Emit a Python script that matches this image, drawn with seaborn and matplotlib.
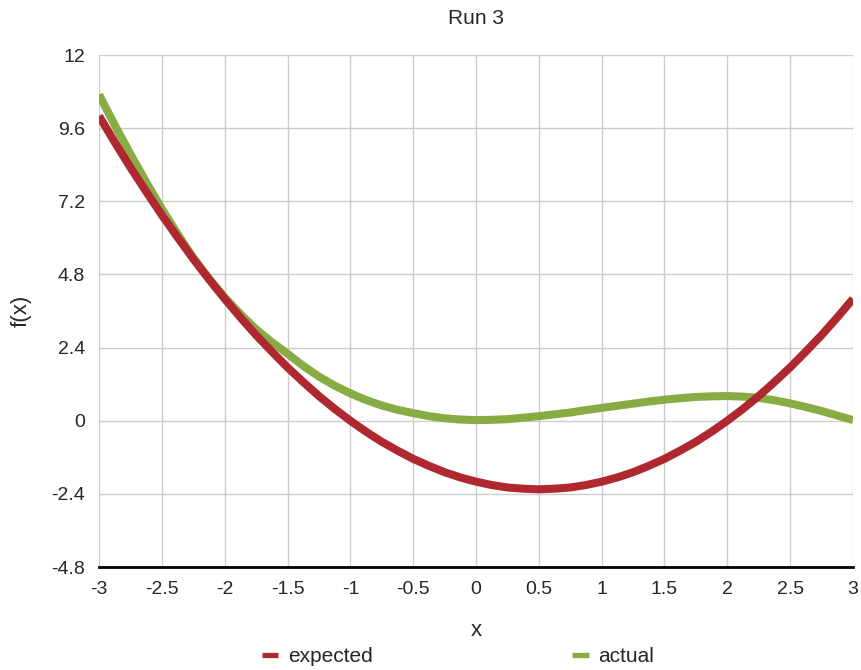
import numpy as np
import pandas as pd
import matplotlib
matplotlib.use("Agg")
import matplotlib.pyplot as plt
import seaborn as sns
from matplotlib.lines import Line2D

x_vals = [-3, -2.875, -2.75, -2.625, -2.5, -2.375, -2.25, -2.125, -2, -1.875, -1.75, -1.625,
          -1.5, -1.375, -1.25, -1.125, -1, -0.875, -0.75, -0.625, -0.5, -0.375, -0.25, -0.125,
          0, 0.125, 0.25, 0.375, 0.5, 0.625, 0.75, 0.875, 1, 1.125, 1.25, 1.375,
          1.5, 1.625, 1.75, 1.875, 2, 2.125, 2.25, 2.375, 2.5, 2.625, 2.75, 2.875, 3]
expected = [10.0, 9.14, 8.31, 7.52, 6.75, 6.02, 5.31, 4.64, 4.0, 3.39, 2.81, 2.27,
            1.75, 1.27, 0.81, 0.39, 0.0, -0.36, -0.69, -0.98, -1.25, -1.48, -1.69, -1.86,
            -2.0, -2.11, -2.19, -2.23, -2.25, -2.23, -2.19, -2.11, -2.0, -1.86, -1.69, -1.48,
            -1.25, -0.98, -0.69, -0.36, 0.0, 0.39, 0.81, 1.27, 1.75, 2.27, 2.81, 3.39, 4.0]
actual = [10.7, 9.7, 8.75, 7.83, 6.95, 6.13, 5.35, 4.67, 4.05, 3.5, 3.0, 2.58,
          2.2, 1.8, 1.45, 1.15, 0.9, 0.68, 0.5, 0.36, 0.25, 0.15, 0.08, 0.04,
          0.02, 0.03, 0.05, 0.1, 0.15, 0.21, 0.27, 0.35, 0.42, 0.49, 0.56, 0.63,
          0.69, 0.74, 0.78, 0.8, 0.81, 0.79, 0.75, 0.67, 0.57, 0.45, 0.32, 0.17, 0.02]
series_names = ["expected", "actual"]
x_ticks = [-3, -2.5, -2, -1.5, -1, -0.5, 0, 0.5, 1, 1.5, 2, 2.5, 3]
x_tick_labels = ["-3", "-2.5", "-2", "-1.5", "-1", "-0.5", "0", "0.5", "1", "1.5", "2", "2.5", "3"]
y_ticks = [-4.8, -2.4, 0, 2.4, 4.8, 7.2, 9.6, 12]
y_tick_labels = ["-4.8", "-2.4", "0", "2.4", "4.8", "7.2", "9.6", "12"]

df = pd.DataFrame({
    "x": x_vals * 2,
    "y": expected + actual,
    "series": [series_names[0]] * len(x_vals) + [series_names[1]] * len(x_vals),
})

sns.set_style("white")
plt.rcParams["font.family"] = ["Liberation Sans", "DejaVu Sans"]

fig = plt.figure(figsize=(8.61, 6.70), dpi=100)
ax = fig.add_axes([0.115, 0.1537, 0.8757, 0.7642])

palette = {"expected": "#B0282F", "actual": "#88AC44"}
sns.lineplot(data=df, x="x", y="y", hue="series", hue_order=["actual", "expected"],
             palette=palette, linewidth=5.8, ax=ax, legend=False, sort=True,
             estimator=None)
for ln in ax.get_lines():
    ln.set_solid_capstyle("butt")
    ln.set_solid_joinstyle("round")

ax.set_xlim(-3, 3)
ax.set_ylim(-4.8, 12)
ax.set_xticks(x_ticks)
ax.set_xticklabels(x_tick_labels, fontsize=14)
ax.set_yticks(y_ticks)
ax.set_yticklabels(y_tick_labels, fontsize=14)
ax.grid(True, color="#CCCCCC", linewidth=1)
ax.set_axisbelow(True)
for s in ["top", "right", "left"]:
    ax.spines[s].set_visible(False)
ax.spines["bottom"].set_color("black")
ax.spines["bottom"].set_linewidth(2)
ax.tick_params(axis="both", length=0, pad=10)
ax.set_xlabel("x", fontsize=16, labelpad=16)
ax.set_ylabel("f(x)", fontsize=16, labelpad=14)
ax.set_title("Run 3", fontsize=15, pad=22)

handles = [Line2D([0], [0], color=palette["expected"], linewidth=3.8, solid_capstyle="butt"),
           Line2D([0], [0], color=palette["actual"], linewidth=3.8, solid_capstyle="butt")]
fig.legend(handles, series_names, loc="lower center", bbox_to_anchor=(0.532, -0.022),
           ncol=2, frameon=False, fontsize=15, handlelength=0.8, columnspacing=9.6,
           handletextpad=0.45)

fig.savefig("out.png", dpi=100)
